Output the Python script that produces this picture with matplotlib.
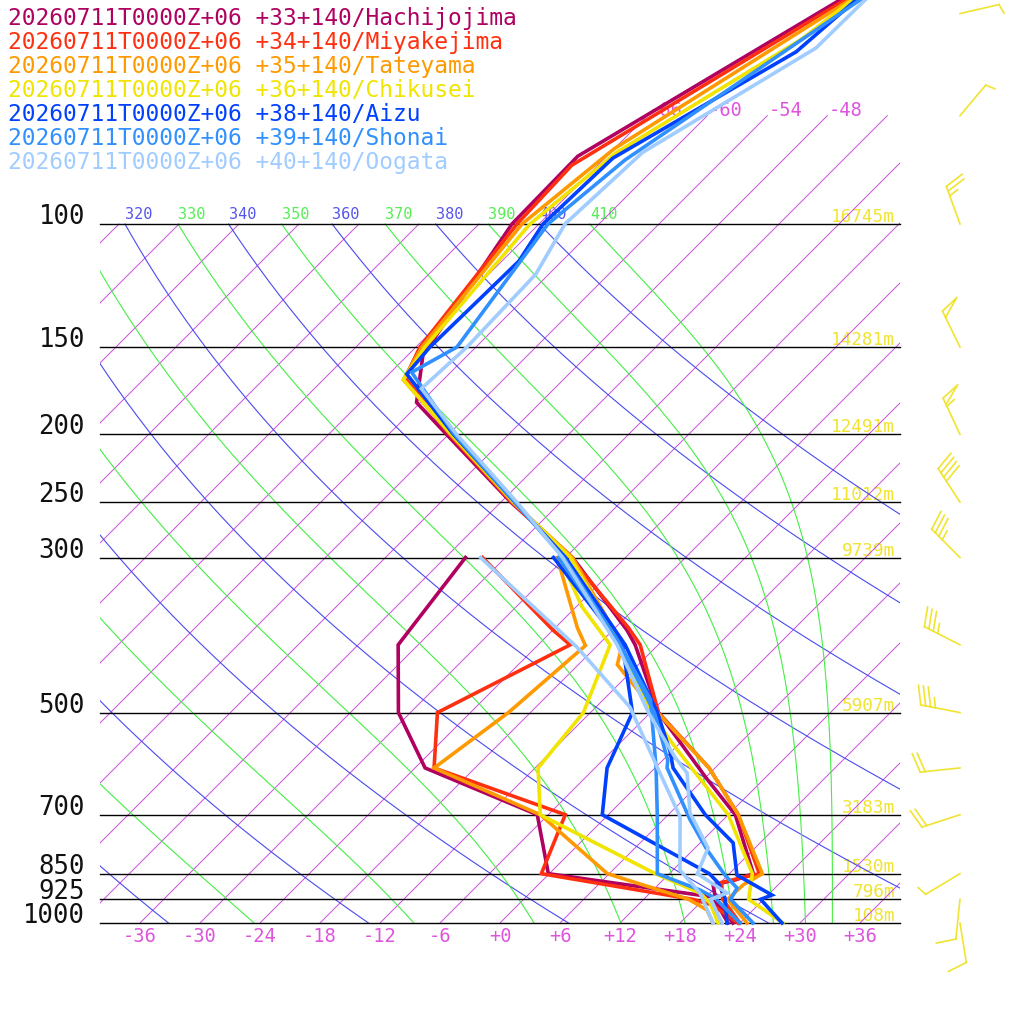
import numpy as np
import matplotlib
matplotlib.use("Agg")
import matplotlib.pyplot as plt
from matplotlib.patches import Rectangle
from matplotlib.transforms import offset_copy, IdentityTransform

# ---------------------------------------------------------------
# sounding data (pressure hPa, temperature C)
# ---------------------------------------------------------------
run_label = "20260711T0000Z+06"
stations = ["Hachijojima", "Miyakejima", "Tateyama", "Chikusei", "Aizu", "Shonai", "Oogata"]
station_lat = [33, 34, 35, 36, 38, 39, 40]
station_lon = [140, 140, 140, 140, 140, 140, 140]
colors = ["#b00060", "#ff3010", "#ff9900", "#f0e400", "#0040ff", "#3090ff", "#a0ccff"]

hachijojima_p = [1000, 925, 882, 868, 850, 700, 620, 500, 400, 381, 300, 250, 200, 180, 154, 100, 80, 47.8]
hachijojima_t = [23.3, 19.2, 17.5, 19.2, 20.4, 12.7, 6.1, -5.2, -14.3, -16.6, -29.3, -41.0, -54.2, -60.4, -64.5, -68.7, -68.9, -58.3]
hachijojima_dp = [1000, 918, 850, 700, 600, 500, 400, 300]
hachijojima_td = [22.8, 18.7, -0.1, -7.1, -23.0, -31.2, -38.0, -40.0]

miyakejima_p = [1000, 925, 875, 850, 700, 600, 500, 400, 378, 300, 250, 200, 166, 150, 100, 82.4, 47.8]
miyakejima_t = [24.0, 19.9, 18.1, 21.0, 13.0, 5.4, -5.2, -13.8, -16.7, -29.5, -40.9, -53.9, -64.0, -65.6, -68.2, -68.6, -57.8]
miyakejima_dp = [1000, 942, 925, 850, 700, 600, 500, 400, 381, 300]
miyakejima_td = [23.8, 19.4, 16.9, -0.8, -4.3, -22.1, -27.3, -20.8, -24.0, -38.3]

tateyama_p = [1000, 925, 882, 850, 700, 600, 500, 488, 427, 400, 300, 250, 200, 167, 150, 100, 78, 47.8]
tateyama_t = [24.7, 20.4, 20.5, 21.3, 13.0, 5.4, -5.3, -6.8, -14.1, -15.6, -29.3, -40.8, -53.8, -64.0, -65.4, -67.7, -66.0, -57.3]
tateyama_dp = [1000, 958, 925, 850, 700, 600, 500, 401, 378, 316, 300]
tateyama_td = [21.3, 19.4, 16.5, 5.8, -6.8, -22.1, -20.2, -19.2, -21.8, -28.8, -30.8]

chikusei_p = [1000, 925, 850, 700, 560, 500, 400, 300, 250, 200, 167, 150, 100, 79, 54.3, 47.8]
chikusei_t = [28.3, 22.5, 20.3, 12.0, -0.1, -6.0, -15.8, -29.5, -40.7, -53.7, -64.0, -65.1, -66.9, -65.4, -58.2, -57.1]
chikusei_dp = [1000, 936, 906, 850, 700, 600, 500, 400, 353, 300]
chikusei_td = [21.8, 19.0, 17.0, 10.6, -6.8, -11.7, -12.7, -16.8, -23.4, -30.6]

aizu_p = [1000, 925, 912, 854, 768, 700, 600, 569, 500, 400, 300, 250, 200, 164, 150, 113, 100, 80.5, 56.7, 47.8]
aizu_t = [28.2, 23.7, 24.4, 18.9, 15.3, 9.7, 1.8, -0.1, -5.3, -15.3, -30.0, -40.6, -53.5, -64.2, -64.6, -64.3, -65.6, -65.2, -57.5, -56.7]
aizu_dp = [1000, 921, 876, 850, 700, 600, 500, 403, 300]
aizu_td = [22.7, 20.0, 17.8, 16.0, -0.6, -4.8, -7.8, -15.3, -31.2]

shonai_p = [1000, 925, 891, 854, 786, 712, 600, 585, 500, 400, 300, 250, 200, 163, 150, 100, 81, 47.8]
shonai_t = [25.3, 20.7, 20.2, 17.7, 13.4, 8.7, 1.2, 0.5, -5.6, -15.8, -30.2, -40.6, -53.4, -63.9, -61.9, -65.1, -63.8, -56.3]
shonai_dp = [1000, 921, 897, 850, 700, 600, 479, 400, 300]
shonai_td = [24.0, 19.0, 16.7, 10.8, 4.9, 0.1, -7.3, -15.8, -30.7]

oogata_p = [1000, 925, 906, 850, 781, 696, 610, 579, 500, 400, 300, 250, 200, 172, 150, 118, 100, 79, 56, 47.8]
oogata_t = [22.2, 18.7, 19.7, 14.8, 13.3, 8.0, 3.7, 0.9, -6.2, -16.1, -30.3, -40.4, -53.2, -61.3, -60.9, -61.3, -63.4, -62.8, -55.9, -55.8]
oogata_dp = [1000, 906, 840, 705, 598, 491, 403, 300]
oogata_td = [21.3, 17.0, 12.7, 7.4, 0.1, -8.6, -19.9, -38.5]

# wind barbs (one column)
wind_p = [1000, 925, 850, 700, 600, 500, 400, 300, 250, 200, 150, 100, 70, 50]
wind_dir = [171, 186, 239, 252, 264, 281, 297, 315, 327, 335, 334, 340, 40, 77]
wind_kt = [10, 10, 5, 20, 20, 35, 35, 35, 40, 55, 50, 25, 5, 5]

# pressure lines, labels and geopotential heights
levels = [100, 150, 200, 250, 300, 500, 700, 850, 925, 1000]
heights = [16745, 14281, 12491, 11012, 9739, 5907, 3183, 1530, 796, 108]

# background grid values
isotherms = list(range(-108, 37, 6))
iso_labels = [-66, -60, -54, -48]
bottom_ticks = list(range(-36, 37, 6))
dry_thetas = list(range(240, 401, 20))
moist_thetas = list(range(250, 411, 20))

profiles = [
    (hachijojima_p, hachijojima_t, hachijojima_dp, hachijojima_td),
    (miyakejima_p, miyakejima_t, miyakejima_dp, miyakejima_td),
    (tateyama_p, tateyama_t, tateyama_dp, tateyama_td),
    (chikusei_p, chikusei_t, chikusei_dp, chikusei_td),
    (aizu_p, aizu_t, aizu_dp, aizu_td),
    (shonai_p, shonai_t, shonai_dp, shonai_td),
    (oogata_p, oogata_t, oogata_dp, oogata_td),
]

# ---------------------------------------------------------------
# geometry of the skew-T (image is 1024 px square)
# ---------------------------------------------------------------
W = 1024
P0_PX = 923     # row of 1000 hPa
DEC_PX = 699    # rows per decade of pressure
DEG_PX = 10     # columns per degree
X0_PX = 500     # column of 0 C at 1000 hPa
SKEW = DEC_PX / DEG_PX


def skew(t, p):
    return np.asarray(t, dtype=float) + SKEW * np.log10(1000.0 / np.asarray(p, dtype=float))


def theta_e_sat(tk, p):
    tc = tk - 273.15
    es = 6.112 * np.exp(17.67 * tc / (tc + 243.5))
    r = 0.622 * es / np.maximum(p - es, 1e-3)
    return tk * (1000.0 / p) ** (0.2854 * (1 - 0.28 * r)) * np.exp((3376.0 / tk - 2.54) * r * (1 + 0.81 * r))


def moist_adiabat(the, p):
    lo = np.full_like(p, 150.0)
    hi = np.full_like(p, 330.0)
    with np.errstate(over="ignore", invalid="ignore"):
        for _ in range(50):
            mid = 0.5 * (lo + hi)
            warm = theta_e_sat(mid, p) > the
            hi = np.where(warm, mid, hi)
            lo = np.where(warm, lo, mid)
    return 0.5 * (lo + hi) - 273.15


fig = plt.figure(figsize=(10.24, 10.24), dpi=100)
plt.rcParams["font.family"] = ["DejaVu Sans Mono", "DejaVu Sans"]
ax = fig.add_axes([0, 0, 1, 1])
ax.set_yscale("log")
ax.set_xlim(-X0_PX / DEG_PX, (W - X0_PX) / DEG_PX)
ax.set_ylim(1000 * 10 ** ((W - P0_PX) / DEC_PX), 1000 * 10 ** (-P0_PX / DEC_PX))
ax.axis("off")

XL, XR = -40, 40   # box edges (100 px and 900 px)
box = Rectangle((XL, 60), XR - XL, 940, transform=ax.transData)

MAG = "#c94ddc"
BLUE = "#4a4af0"
GREEN = "#44ee44"
YEL = "#f0e430"

# isotherms
for t in isotherms:
    top = 70 if t >= -66 else 100
    pp = np.array([1000.0, top])
    ln, = ax.plot(skew([t, t], pp), pp, color=MAG, lw=0.7, zorder=2)
    ln.set_clip_path(box)
for t in iso_labels:
    ax.text(skew(t, 70), 70, f"{t:+d}", color="#dd55dd", fontsize=13.5,
            ha="left", va="baseline", zorder=1,
            transform=offset_copy(ax.transData, fig=fig, x=1, y=0, units="dots"))

# dry and moist adiabats, labelled where they meet 100 hPa
pgrid = np.geomspace(1000, 100, 200)
lab_tr = offset_copy(ax.transData, fig=fig, x=0, y=5, units="dots")
adiabats = [(th, th * (pgrid / 1000.0) ** 0.2857 - 273.15, BLUE, "#5555ee") for th in dry_thetas]
adiabats += [(th, moist_adiabat(th, pgrid), GREEN, "#55ee55") for th in moist_thetas]
for th, tt, lc, tc in adiabats:
    ln, = ax.plot(skew(tt, pgrid), pgrid, color=lc, lw=0.8, zorder=2)
    ln.set_clip_path(box)
    x100 = float(skew(tt[-1], 100))
    if x100 >= XL:
        ax.text(x100, 100, str(th), color=tc, fontsize=11, ha="left",
                va="baseline", transform=lab_tr, zorder=1)

# pressure lines, labels, heights
for p, h in zip(levels, heights):
    ax.plot([XL, XR], [p, p], color="black", lw=1.0, zorder=2.5)
    ax.text(-41.5, p, str(p), color="#111111", fontsize=18.5, ha="right",
            va="baseline", zorder=1)
    ax.text(39.5, p, f"{h}m", color=YEL, fontsize=12.8, ha="right", va="baseline",
            zorder=1, transform=offset_copy(ax.transData, fig=fig, x=0, y=2, units="dots"))

bot_tr = offset_copy(ax.transData, fig=fig, x=0, y=-14, units="dots")
for t in bottom_ticks:
    ax.text(t, 1000, f"{t:+d}", color="#dd55dd", fontsize=13.5, ha="center",
            va="center", transform=bot_tr)

# profiles
for (tp, tt, dp, td), c in zip(profiles, colors):
    ax.plot(skew(td, dp), dp, color=c, lw=2.6, zorder=3, solid_joinstyle="miter")
    ax.plot(skew(tt, tp), tp, color=c, lw=2.6, zorder=3, solid_joinstyle="miter")

# legend text
for i, (name, lat, lon, c) in enumerate(zip(stations, station_lat, station_lon, colors)):
    fig.text(8 / W, 1 - (25 + 24 * i) / W, f"{run_label} {lat:+d}{lon:+d}/{name}",
             color=c, fontsize=16.5, ha="left", va="baseline")

# wind barbs, drawn in pixels
BARB_X = (960 - X0_PX) / DEG_PX
SHAFT = 40
idt = IdentityTransform()


def draw_barb(p, wdir, wspd):
    base = np.array(ax.transData.transform((BARB_X, p)))
    d = np.radians(wdir)
    u = np.array([np.sin(d), np.cos(d)])
    n = np.array([u[1], -u[0]])
    tip = base + SHAFT * u
    segs = [[base, tip]]
    feather = 19 * n + 6 * u
    spd = int(round(wspd / 5.0) * 5)
    n50, rem = divmod(spd, 50)
    n10, rem = divmod(rem, 10)
    n5 = rem // 5
    pos = tip.copy()
    for _ in range(n50):
        segs.append([pos, pos + feather, pos - 7 * u])
        pos = pos - 9 * u
    for _ in range(n10):
        segs.append([pos, pos + feather])
        pos = pos - 5 * u
    for _ in range(n5):
        segs.append([pos, pos + 0.5 * feather])
        pos = pos - 5 * u
    for s in segs:
        s = np.array(s)
        ax.plot(s[:, 0], s[:, 1], color=YEL, lw=1.2, transform=idt, clip_on=False, zorder=3)


fig.canvas.draw()
for p, wd, ws in zip(wind_p, wind_dir, wind_kt):
    draw_barb(p, wd, ws)

fig.savefig("out.png", dpi=100, facecolor="white")
